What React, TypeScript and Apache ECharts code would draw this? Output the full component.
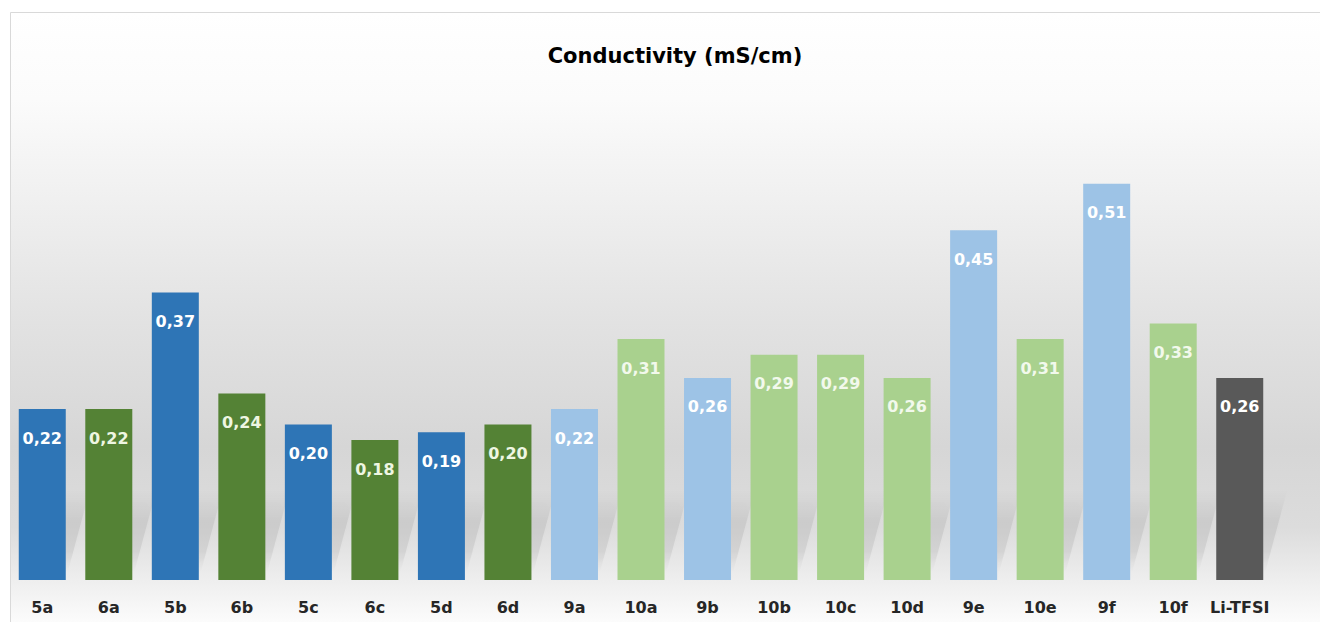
import React, { useEffect, useRef } from "react";
import * as echarts from "echarts";

const categories = ["5a", "6a", "5b", "6b", "5c", "6c", "5d", "6d", "9a", "10a", "9b", "10b", "10c", "10d", "9e", "10e", "9f", "10f", "Li-TFSI"];
const values = [0.22, 0.22, 0.37, 0.24, 0.2, 0.18, 0.19, 0.2, 0.22, 0.31, 0.26, 0.29, 0.29, 0.26, 0.45, 0.31, 0.51, 0.33, 0.26];
const groups = ["db", "dg", "db", "dg", "db", "dg", "db", "dg", "lb", "lg", "lb", "lg", "lg", "lg", "lb", "lg", "lb", "lg", "gr"];
const titleText = "Conductivity (mS/cm)";

const barColors: Record<string, string> = {
  db: "#2E75B6",
  dg: "#548235",
  lb: "#9DC3E6",
  lg: "#A9D18E",
  gr: "#595959",
};
const labelColors: Record<string, string> = {
  db: "#ffffff",
  dg: "#eef6e2",
  lb: "#ffffff",
  lg: "#f2f9ec",
  gr: "#ffffff",
};

const BAR_W = 47;

export default function App() {
  const ref = useRef<HTMLDivElement>(null);
  useEffect(() => {
    document.body.style.margin = "0";
    if (!ref.current) return;
    const chart = echarts.init(ref.current, null, { renderer: "svg" });
    const font = "'DejaVu Sans', 'Open Sans', sans-serif";
    chart.setOption({
      animation: false,
      backgroundColor: "#ffffff",
      graphic: [
        {
          type: "rect",
          z: -10,
          silent: true,
          shape: { x: 10.5, y: 12.5, width: 1320, height: 620 },
          style: {
            stroke: "#d9d9d9",
            lineWidth: 1,
            fill: new echarts.graphic.LinearGradient(0, 0, 0, 1, [
              { offset: 0, color: "#ffffff" },
              { offset: 0.14, color: "#fbfbfb" },
              { offset: 0.3, color: "#f0f0f0" },
              { offset: 0.5, color: "#e2e2e2" },
              { offset: 0.7, color: "#d6d6d6" },
              { offset: 0.83, color: "#dcdcdc" },
              { offset: 0.92, color: "#efefef" },
              { offset: 1, color: "#ffffff" },
            ]),
          },
        },
      ],
      title: {
        text: titleText,
        left: 670,
        top: 40,
        textAlign: "center",
        textStyle: { fontFamily: font, fontSize: 21, fontWeight: "bold", color: "#000000" },
      },
      grid: { left: 9, right: 47, top: 36, bottom: 42, containLabel: false },
      xAxis: {
        type: "category",
        data: categories,
        axisLine: { show: false },
        axisTick: { show: false },
        axisLabel: {
          fontFamily: font,
          fontSize: 16,
          fontWeight: "bold",
          color: "#262626",
          margin: 19,
          interval: 0,
        },
      },
      yAxis: {
        type: "value",
        min: 0,
        max: 0.7,
        show: false,
        splitLine: { show: false },
      },
      series: [
        {
          type: "custom",
          z: 1,
          silent: true,
          data: values.map((v, i) => [i, v]),
          renderItem: (params: any, api: any) => {
            const base = api.coord([api.value(0), 0]);
            const L = base[0] - BAR_W / 2;
            const R = base[0] + BAR_W / 2;
            const B = base[1];
            const dx = 24;
            const h = 90;
            return {
              type: "polygon",
              shape: {
                points: [
                  [L + 8, B - 8],
                  [R + 2, B - 8],
                  [R + dx, B - h],
                  [L + dx, B - h],
                ],
              },
              style: {
                fill: new echarts.graphic.LinearGradient(0, 0, 0, 1, [
                  { offset: 0, color: "rgba(0,0,0,0)" },
                  { offset: 0.4, color: "rgba(0,0,0,0.07)" },
                  { offset: 0.75, color: "rgba(0,0,0,0.07)" },
                  { offset: 1, color: "rgba(0,0,0,0)" },
                ]),
                shadowBlur: 10,
                shadowColor: "rgba(0,0,0,0.08)",
              },
            };
          },
        },
        {
          type: "bar",
          z: 2,
          data: values.map((v, i) => ({
            value: v,
            itemStyle: { color: barColors[groups[i]] },
            label: { color: labelColors[groups[i]] },
          })),
          barWidth: BAR_W,
          label: {
            show: true,
            position: "insideTop",
            distance: 21,
            fontFamily: font,
            fontSize: 16,
            fontWeight: "bold",
            formatter: (p: any) => p.value.toFixed(2).replace(".", ","),
          },
        },
      ],
    });
    return () => chart.dispose();
  }, []);
  return <div ref={ref} style={{ width: 1320, height: 622 }} />;
}
